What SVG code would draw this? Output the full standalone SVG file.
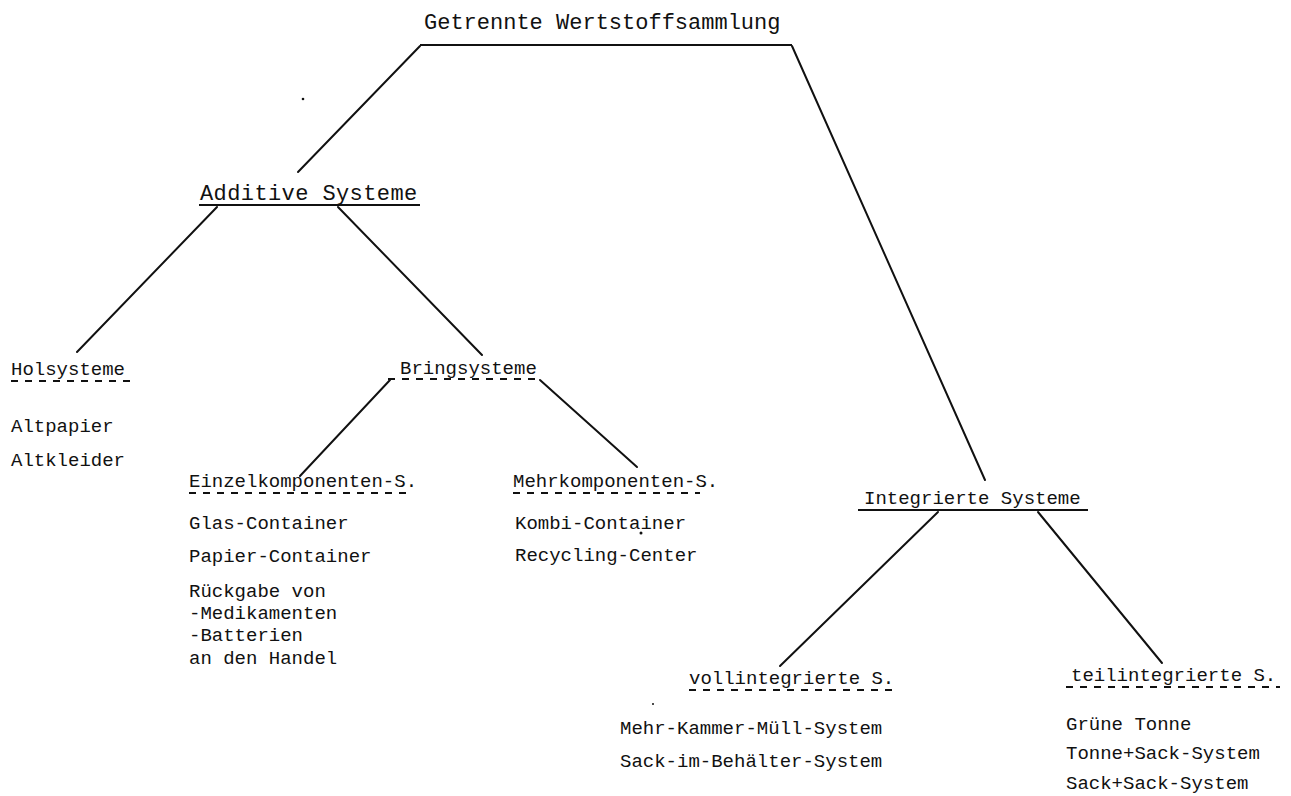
<svg xmlns="http://www.w3.org/2000/svg" width="1291" height="796" viewBox="0 0 1291 796">
<style>
text{font-family:"Liberation Mono","DejaVu Sans Mono",monospace;fill:#111}
.big{font-size:22px}
.t{font-size:19px}
.c{stroke:#111;stroke-width:2;fill:none;stroke-linecap:round}
.ul{stroke:#111;stroke-width:2;fill:none}
.dul{stroke:#111;stroke-width:2;fill:none;stroke-dasharray:7 7}
</style>
<rect width="1291" height="796" fill="#fff"/>
<g id="connectors">
<path class="c" d="M420,46 L298,172" stroke-width="2.5"/>
<path class="c" d="M792,46 L985,480"/>
<path class="c" d="M217,207 L77,352"/>
<path class="c" d="M338,207 L482,355"/>
<path class="c" d="M390,380 L300,476"/>
<path class="c" d="M540,380 L637,467"/>
<path class="c" d="M938,512 L780,666"/>
<path class="c" d="M1038,512 L1162,663"/>
</g>
<g id="n-root">
<text class="big" x="424" y="29">Getrennte Wertstoffsammlung</text>
<path class="ul" d="M420,45 L792,45" stroke-width="3"/>
</g>
<g id="n-additive">
<text class="big" x="200" y="200" letter-spacing="0.4">Additive Systeme</text>
<path class="ul" d="M199,205 L420,205"/>
</g>
<g id="n-hol">
<text class="t" x="11" y="375">Holsysteme</text>
<path class="dul" d="M11,381 L134,381"/>
<text class="t" x="11" y="432">Altpapier</text>
<text class="t" x="11" y="466">Altkleider</text>
</g>
<g id="n-bring">
<text class="t" x="400" y="374">Bringsysteme</text>
<path class="dul" d="M388,379 L541,379"/>
</g>
<g id="n-einzel">
<text class="t" x="189" y="487">Einzelkomponenten-S.</text>
<path class="dul" d="M189,493 L410,493"/>
<text class="t" x="189" y="529">Glas-Container</text>
<text class="t" x="189" y="562">Papier-Container</text>
<text class="t" x="189" y="597">Rückgabe von</text>
<text class="t" x="189" y="619">-Medikamenten</text>
<text class="t" x="189" y="641">-Batterien</text>
<text class="t" x="189" y="664">an den Handel</text>
</g>
<g id="n-mehr">
<text class="t" x="513" y="487">Mehrkomponenten-S.</text>
<path class="dul" d="M513,493 L700,493"/>
<text class="t" x="515" y="529">Kombi-Container</text>
<text class="t" x="515" y="561">Recycling-Center</text>
</g>
<g id="n-integ">
<text class="t" x="864" y="504">Integrierte Systeme</text>
<path class="ul" d="M858,510 L1088,510"/>
</g>
<g id="n-voll">
<text class="t" x="689" y="684">vollintegrierte S.</text>
<path class="dul" d="M689,690 L893,690"/>
<text class="t" x="620" y="734">Mehr-Kammer-Müll-System</text>
<text class="t" x="620" y="767">Sack-im-Behälter-System</text>
</g>
<g id="n-teil">
<text class="t" x="1071" y="681">teilintegrierte S.</text>
<path class="dul" d="M1066,687 L1280,687"/>
<text class="t" x="1066" y="730">Grüne Tonne</text>
<text class="t" x="1066" y="759">Tonne+Sack-System</text>
<text class="t" x="1066" y="789">Sack+Sack-System</text>
</g>
<g id="specks" fill="#111">
<circle cx="303" cy="99" r="1.3"/>
<circle cx="641" cy="533" r="1.5"/>
<circle cx="653" cy="704" r="1"/>
</g>
</svg>
